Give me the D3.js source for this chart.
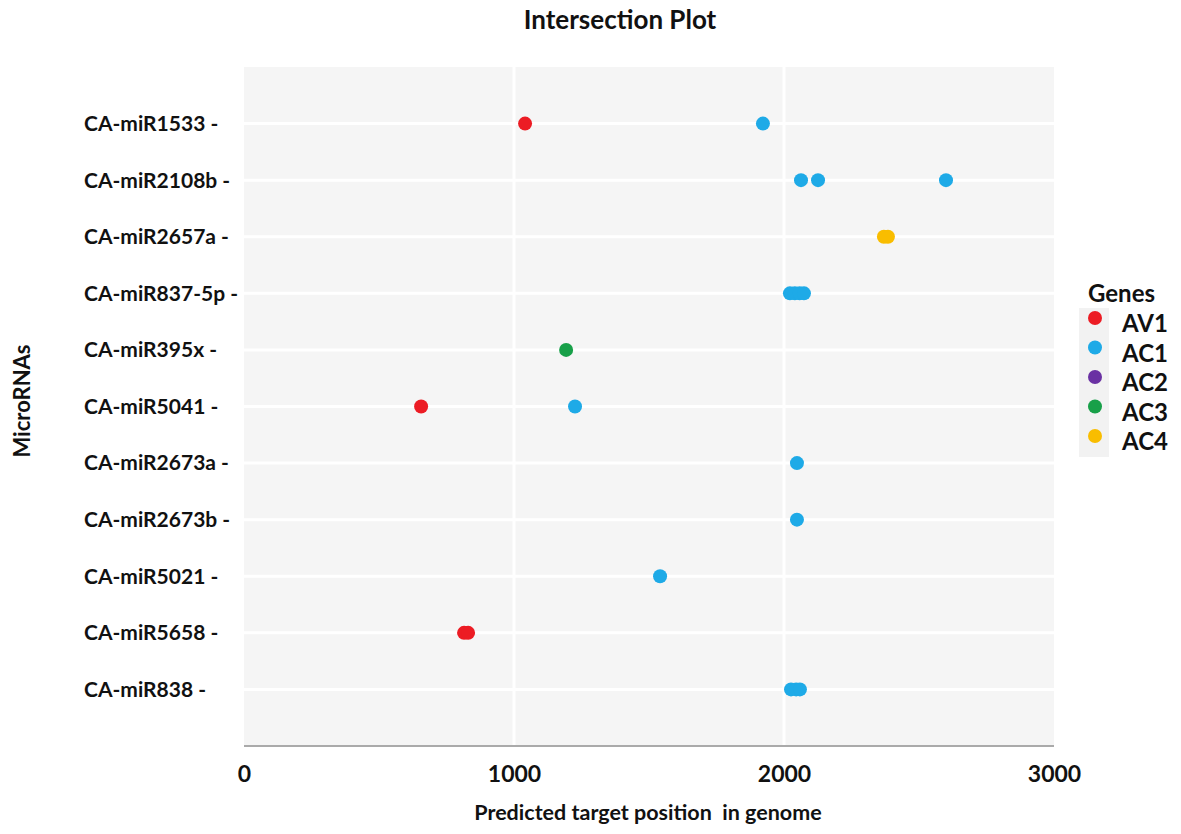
<!DOCTYPE html>
<html><head><meta charset="utf-8">
<script src="https://cdn.jsdelivr.net/npm/d3@7"></script>
<style>body{margin:0;background:#fff}svg{display:block}text{font-family:Lato,"Open Sans",sans-serif;font-weight:bold;fill:#111}</style>
</head><body><svg id="c" width="1181" height="834"></svg>
<script>
const microRNAs = ["CA-miR1533","CA-miR2108b","CA-miR2657a","CA-miR837-5p","CA-miR395x","CA-miR5041","CA-miR2673a","CA-miR2673b","CA-miR5021","CA-miR5658","CA-miR838"];
const genes = ["AV1","AC1","AC2","AC3","AC4"];
const geneColors = ["#ec1c24","#1eaae7","#6a31a3","#18a049","#f9bd00"];
const xTicks = [0,1000,2000,3000];
// points: [microRNA, gene, position]
const pointMiRNA = ["CA-miR1533","CA-miR1533","CA-miR2108b","CA-miR2108b","CA-miR2108b","CA-miR2657a","CA-miR2657a","CA-miR837-5p","CA-miR837-5p","CA-miR837-5p","CA-miR837-5p","CA-miR395x","CA-miR5041","CA-miR5041","CA-miR2673a","CA-miR2673b","CA-miR5021","CA-miR5658","CA-miR5658","CA-miR838","CA-miR838","CA-miR838"];
const pointGene  = ["AV1","AC1","AC1","AC1","AC1","AC4","AC4","AC1","AC1","AC1","AC1","AC3","AV1","AC1","AC1","AC1","AC1","AV1","AV1","AC1","AC1","AC1"];
const pointPos   = [1041,1922,2063,2126,2600,2370,2385,2022,2040,2058,2074,1193,656,1226,2048,2048,1541,815,830,2026,2045,2059];

const svg = d3.select("#c");
const L=244,R=1054,T=67,B=746;
const x = d3.scaleLinear().domain([0,3000]).range([L,R]);
const y = d3.scalePoint().domain(microRNAs).range([T,B]).padding(1);
const color = d3.scaleOrdinal().domain(genes).range(geneColors);

svg.append("rect").attr("x",L).attr("y",T).attr("width",R-L).attr("height",B-T).attr("fill","#f5f5f5");
svg.append("g").selectAll("line").data(microRNAs).join("line")
  .attr("x1",L).attr("x2",R).attr("y1",d=>y(d)).attr("y2",d=>y(d)).attr("stroke","#fff").attr("stroke-width",3);
svg.append("g").selectAll("line").data(xTicks.filter(t=>t>0&&t<3000)).join("line")
  .attr("x1",d=>x(d)).attr("x2",d=>x(d)).attr("y1",T).attr("y2",B).attr("stroke","#fff").attr("stroke-width",3);
svg.append("line").attr("x1",L).attr("x2",R).attr("y1",B).attr("y2",B).attr("stroke","#aaa").attr("stroke-width",2);

// x axis
const xa = svg.append("g").attr("transform",`translate(0,${B})`).call(d3.axisBottom(x).tickValues(xTicks).tickSize(0).tickPadding(20).tickFormat(d3.format("d")));
xa.select(".domain").remove();
xa.selectAll("text").attr("font-size",23).attr("fill","#111").style("font-family","Lato,sans-serif");

// y labels
svg.append("g").selectAll("text").data(microRNAs).join("text")
  .attr("x",84).attr("y",d=>y(d)).attr("dy","0.35em").attr("font-size",21).text(d=>d+" -");

// points
const pts = pointPos.map((p,i)=>({m:pointMiRNA[i],g:pointGene[i],p}));
svg.append("g").selectAll("circle").data(pts).join("circle")
  .attr("cx",d=>x(d.p)).attr("cy",d=>y(d.m)).attr("r",7).attr("fill",d=>color(d.g));

// titles
svg.append("text").attr("x",620).attr("y",29).attr("text-anchor","middle").attr("font-size",26).text("Intersection Plot");
svg.append("text").attr("x",648).attr("y",820).attr("text-anchor","middle").attr("font-size",21.5).attr("xml:space","preserve").text("Predicted target position  in genome");
svg.append("text").attr("transform","translate(30,401) rotate(-90)").attr("text-anchor","middle").attr("font-size",22).text("MicroRNAs");

// legend
const lg = svg.append("g");
lg.append("text").attr("x",1088).attr("y",302).attr("font-size",24).text("Genes");
lg.append("rect").attr("x",1079).attr("y",308).attr("width",30).attr("height",149).attr("fill","#f2f2f2");
const ly = d3.scalePoint().domain(genes).range([318,436]);
lg.selectAll("circle").data(genes).join("circle").attr("cx",1095).attr("cy",d=>ly(d)).attr("r",7).attr("fill",d=>color(d));
lg.selectAll("text.k").data(genes).join("text").attr("class","k").attr("x",1122).attr("y",d=>ly(d)+6).attr("dy","0.35em").attr("font-size",24).text(d=>d);
</script></body></html>
